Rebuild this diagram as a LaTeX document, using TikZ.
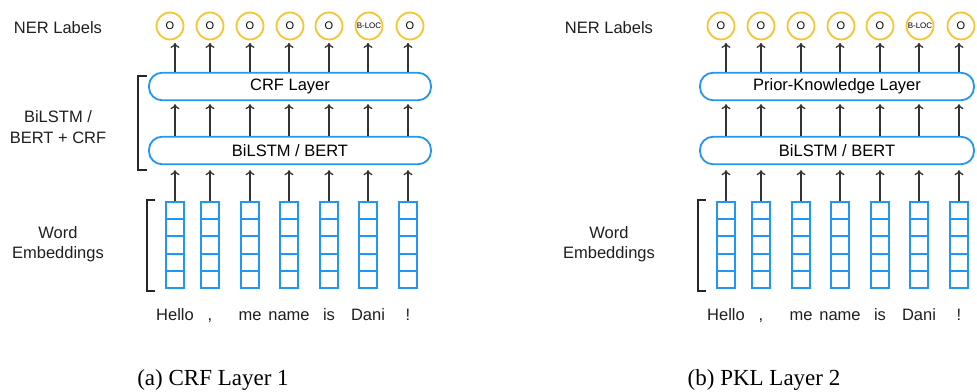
\documentclass[tikz,border=0pt]{standalone}
\usepackage{fontspec}
\setmainfont{Liberation Sans}
\newfontfamily\capfont{Liberation Serif}
\usetikzlibrary{arrows.meta}
\definecolor{embblue}{HTML}{2196F3}
\definecolor{taggold}{HTML}{F5C533}
\definecolor{inkgray}{HTML}{333333}
\tikzset{
  tag/.style={circle,draw=taggold,line width=1.8pt,minimum size=27pt,inner sep=0pt,font=\fontsize{11}{11}\selectfont},
  layerbox/.style={draw=embblue,line width=1.8pt,rounded corners=13pt,minimum height=27.5pt,inner sep=0pt,font=\fontsize{16.5}{18}\selectfont},
  embcol/.style={draw=embblue,line width=2pt,minimum width=18pt,minimum height=86pt,inner sep=0pt},
  up/.style={-{To[length=5pt,width=9pt]},draw=inkgray,line width=1.3pt},
  brk/.style={draw=black!85,line width=1.5pt},
  side/.style={align=center,text=black!88,font=\fontsize{16.5}{20.5}\selectfont},
  word/.style={anchor=base,text=black!88,font=\fontsize{16.5}{18}\selectfont},
}
\begin{document}
\begin{tikzpicture}[x=1pt,y=-1pt]
\useasboundingbox (0,0) rectangle (977,391);
\foreach \p/\dx/\bc/\bw/\lay/\cap in {a/0/290/282/CRF Layer/{(a) CRF Layer 1},b/551/837/274/Prior-Knowledge Layer/{(b) PKL Layer 2}}{
  % side labels and caption
  \node[side] (\p ner) at ({58+\dx},28) {NER Labels};
  \node[side] (\p wemb) at ({58+\dx},244) {Word\\Embeddings};
  \node[anchor=base,font=\capfont\fontsize{23}{25}\selectfont] (\p cap) at ({213+\dx},385) {\cap};
  % the two layers
  \node[layerbox,minimum width=\bw pt] (\p top) at (\bc,86.5) {\lay};
  \node[layerbox,minimum width=\bw pt] (\p bil) at (\bc,150.5) {BiLSTM / BERT};
  \draw[brk] ({155+\dx},200) -- ({147+\dx},200) -- ({147+\dx},291) -- ({155+\dx},291);
  \foreach \i/\x/\cx/\w/\t in {1/175/170/Hello/O,2/210/210/{,}/O,3/250/250/me/O,4/289/290/name/O,5/329/329/is/O,6/368/369/Dani/B-LOC,7/408/410/!/O}{
    \node[embcol] (\p e\i) at ({\x+\dx},245) {};
    \foreach \k in {1,...,4}
      \draw[embblue,line width=2pt] ({\x+\dx-9},{202+round(\k*17.2)}) -- ++(18,0);
    \node[word] (\p w\i) at ({\x+\dx},320) {\w};
    \node[tag] (\p o\i) at ({\cx+\dx},26) {\ifnum\i=6 \fontsize{8}{8}\selectfont\fi\t};
    \draw[up,shorten >=5pt] (\p e\i.north) -- (\p bil.south -| \p e\i);
    \draw[up,shorten >=3pt] (\p bil.north -| \p e\i) -- (\p top.south -| \p e\i);
    \draw[up,shorten >=2.5pt] (\p top.north -| \p e\i) -- (\p o\i.south -| \p e\i);
  }
}
\node[side] (amodel) at (58,127) {BiLSTM /\\BERT + CRF};
\draw[brk] (147,76) -- (138,76) -- (138,170) -- (147,170);
\end{tikzpicture}
\end{document}
